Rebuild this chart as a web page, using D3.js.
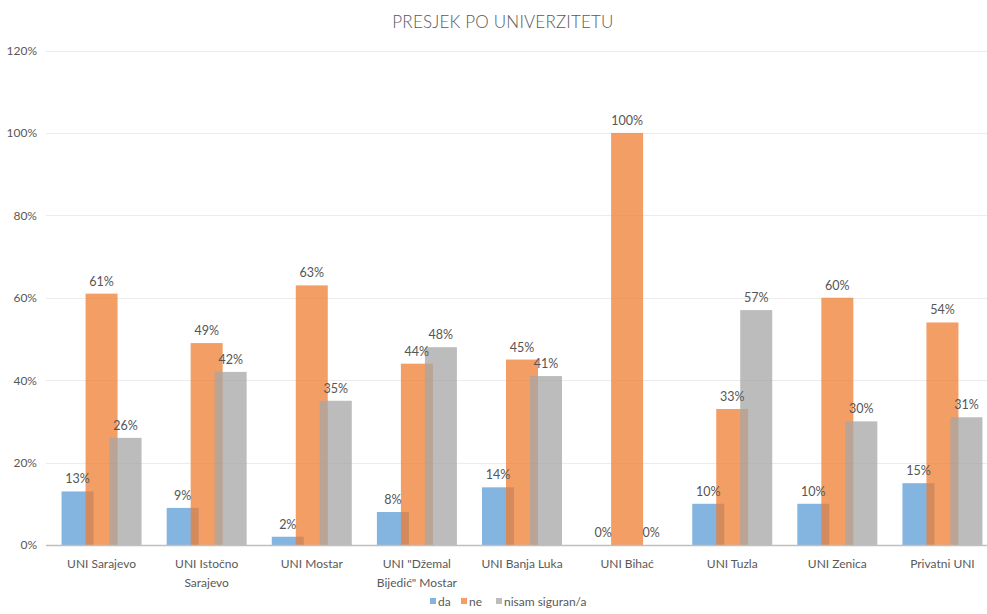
<!DOCTYPE html>
<html><head><meta charset="utf-8">
<script src="https://cdn.jsdelivr.net/npm/d3@7"></script>
<style>body{margin:0;background:#fff}svg{display:block;font-family:Lato,"Open Sans",sans-serif}</style>
</head><body><svg id="c" width="987" height="614"></svg>
<script>
const categories = ["UNI Sarajevo", "UNI Istočno Sarajevo", "UNI Mostar", "UNI \"Džemal Bijedić\" Mostar", "UNI Banja Luka", "UNI Bihać", "UNI Tuzla", "UNI Zenica", "Privatni  UNI"];
const categoryLines = [["UNI Sarajevo"], ["UNI Istočno", "Sarajevo"], ["UNI Mostar"], ["UNI \"Džemal", "Bijedić\" Mostar"], ["UNI Banja Luka"], ["UNI Bihać"], ["UNI Tuzla"], ["UNI Zenica"], ["Privatni  UNI"]];
const seriesNames = ["da", "ne", "nisam siguran/a"];
const da = [13, 9, 2, 8, 14, 0, 10, 10, 15];
const ne = [61, 49, 63, 44, 45, 100, 33, 60, 54];
const nisam = [26, 42, 35, 48, 41, 0, 57, 30, 31];
const yTicks = [0, 20, 40, 60, 80, 100, 120];
const title = "PRESJEK PO UNIVERZITETU";

const colors = ["#5B9BD5", "#ED7D31", "#A5A5A5"];
const series = [da, ne, nisam];
const svg = d3.select("#c");
const x = d3.scaleBand().domain(categories).range([49, 995]);
const y = d3.scaleLinear().domain([0, 120]).range([545, 50.5]);
const barW = 32, offs = [-24, 0, 24];

svg.append("text").attr("x", 503).attr("y", 28).attr("text-anchor", "middle")
  .attr("font-size", 17).attr("font-weight", 300).attr("fill", "#595959").attr("letter-spacing", 0.2).text(title);

// grid
svg.append("g").selectAll("line").data(yTicks.filter(d => d > 0)).join("line")
  .attr("x1", 46).attr("x2", 987).attr("y1", d => Math.round(y(d)) + 0.5).attr("y2", d => Math.round(y(d)) + 0.5)
  .attr("stroke", "#ececec").attr("stroke-width", 1);

// y axis labels
const ya = svg.append("g").attr("transform", "translate(37,0)")
  .call(d3.axisLeft(y).tickValues(yTicks).tickSize(0).tickPadding(0).tickFormat(d => d + "%"));
ya.select(".domain").remove();
ya.selectAll("text").attr("font-size", 12).attr("fill", "#595959").attr("font-family", "Lato, sans-serif");

// bars
series.forEach((vals, si) => {
  const g = svg.append("g");
  g.selectAll("rect").data(vals).join("rect")
    .attr("x", (d, i) => x(categories[i]) + x.bandwidth() / 2 + offs[si] - barW / 2)
    .attr("y", d => y(d)).attr("width", barW).attr("height", d => y(0) - y(d))
    .attr("fill", colors[si]).attr("fill-opacity", 0.75);
});
series.forEach((vals, si) => {
  svg.append("g").selectAll("text").data(vals).join("text")
    .attr("x", (d, i) => x(categories[i]) + x.bandwidth() / 2 + offs[si])
    .attr("y", d => y(d) - 8).attr("text-anchor", "middle")
    .attr("font-size", 12.5).attr("fill", "#555555").text(d => d + "%");
});

// baseline
svg.append("line").attr("x1", 46).attr("x2", 987).attr("y1", 545.5).attr("y2", 545.5)
  .attr("stroke", "#bfbfbf").attr("stroke-width", 1.5);

// category labels
const xa = svg.append("g");
categories.forEach((c, i) => {
  const t = xa.append("text").attr("text-anchor", "middle").attr("font-size", 12).attr("fill", "#595959");
  categoryLines[i].forEach((ln, j) => {
    t.append("tspan").attr("x", x(c) + x.bandwidth() / 2).attr("y", 568 + j * 19).text(ln);
  });
});

// legend
const legendX = [430, 461, 496];
const lg = svg.append("g");
seriesNames.forEach((n, i) => {
  lg.append("rect").attr("x", legendX[i]).attr("y", 598).attr("width", 6).attr("height", 6)
    .attr("fill", colors[i]).attr("fill-opacity", 0.75);
  lg.append("text").attr("x", legendX[i] + 8).attr("y", 606).attr("font-size", 12)
    .attr("fill", "#595959").text(n);
});
</script></body></html>
